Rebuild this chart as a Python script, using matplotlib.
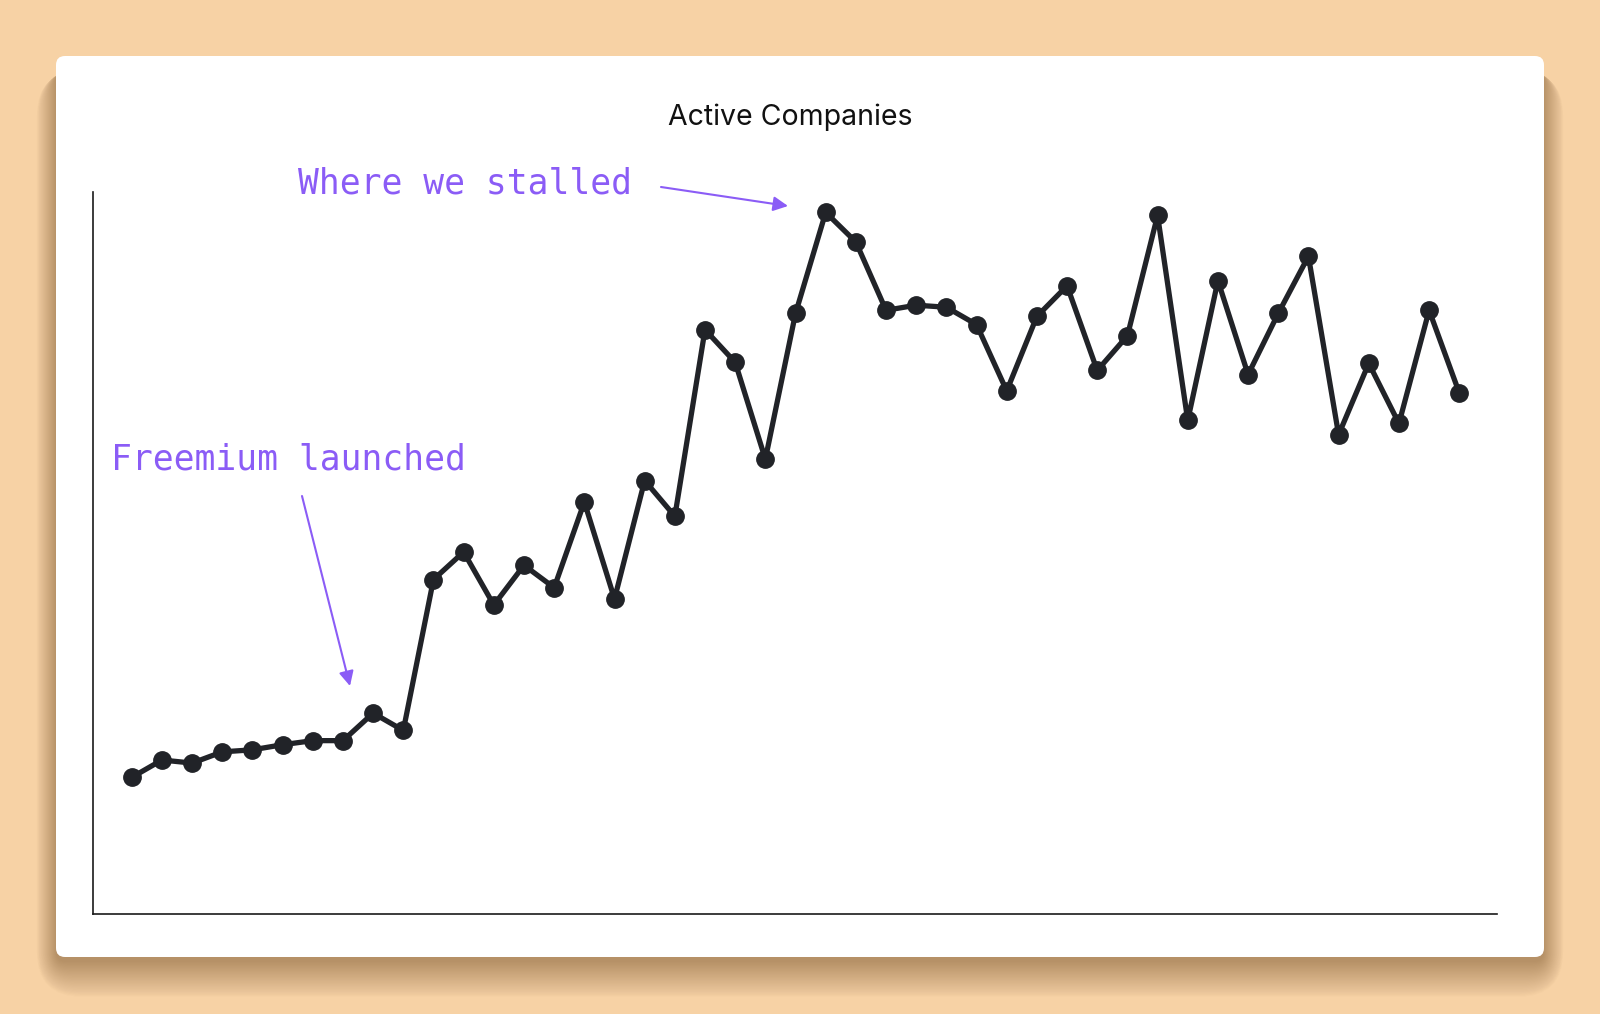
import matplotlib.pyplot as plt
from matplotlib.patches import FancyBboxPatch

# active companies per period (arbitrary units)
active = [134, 151, 148, 159, 161, 166, 170, 170, 197, 180,
          328, 355, 303, 342, 320, 404, 309, 425, 390, 573,
          541, 446, 589, 688, 659, 592, 597, 595, 578, 513,
          586, 616, 533, 567, 685, 484, 621, 529, 589, 645,
          470, 540, 481, 592, 511]
periods = list(range(len(active)))

title = "Active Companies"
note_stall = "Where we stalled"
note_freemium = "Freemium launched"

bg = '#f7d2a5'
purple = '#8b5cf6'
ink = '#212328'

W, H = 1600, 1014
fig = plt.figure(figsize=(W / 100, H / 100), dpi=100, facecolor=bg)
inch = fig.dpi_scale_trans

# card with soft drop shadow (sizes in pixels / 100 -> inches)
cx, cy, cw, ch = 0.56, (H - 957) / 100, 14.88, 9.01
for i in range(30):
    pad = i * 0.012
    sh = FancyBboxPatch((cx - pad * 0.55, cy - 0.05 - pad), cw + 1.1 * pad,
                        ch - 0.1 + pad,
                        boxstyle="round,pad=0,rounding_size=%.3f" % (0.1 + pad),
                        transform=inch, facecolor='#6b4620', edgecolor='none',
                        alpha=0.014, zorder=0)
    fig.patches.append(sh)
card = FancyBboxPatch((cx, cy), cw, ch, boxstyle="round,pad=0,rounding_size=0.09",
                      transform=inch, facecolor='white', edgecolor='none', zorder=1)
fig.patches.append(card)

ax = fig.add_axes([93 / W, (H - 914) / H, (1497 - 93) / W, (914 - 192) / H])
ax.set_zorder(2)
ax.set_facecolor('none')
ax.plot(periods, active, color=ink, lw=3.8, marker='o', markersize=12.5,
        solid_joinstyle='round', zorder=3)
ax.set_xlim(-1.285, 45.25)
ax.set_ylim(0, 708)
ax.set_xticks([])
ax.set_yticks([])
for side in ['top', 'right']:
    ax.spines[side].set_visible(False)
for side in ['left', 'bottom']:
    ax.spines[side].set_color('#1a1a1a')
    ax.spines[side].set_linewidth(1.2)

fig.text(790 / W, 1 - 117 / H, title, ha='center', va='center',
         fontsize=20.5, family='Inter', color='#111111', zorder=3)

# annotations
fig.text(298 / W, 1 - 194 / H, note_stall, ha='left', va='baseline',
         fontsize=24.9, family='DejaVu Sans Mono', color=purple, zorder=3)
fig.text(111 / W, 1 - 469 / H, note_freemium, ha='left', va='baseline',
         fontsize=24.9, family='DejaVu Sans Mono', color=purple, zorder=3)

arrow = dict(arrowstyle='-|>', color=purple, lw=1.5, mutation_scale=22,
             shrinkA=0, shrinkB=0)
for tip, tail in [((788, H - 206), (661, H - 187)),
                  ((350, H - 686), (302, H - 496))]:
    a = plt.Annotation('', xy=tip, xytext=tail, xycoords='figure pixels',
                       textcoords='figure pixels', arrowprops=arrow)
    a.set_zorder(3)
    fig.add_artist(a)

fig.savefig('out.png', dpi=100, facecolor=bg)
